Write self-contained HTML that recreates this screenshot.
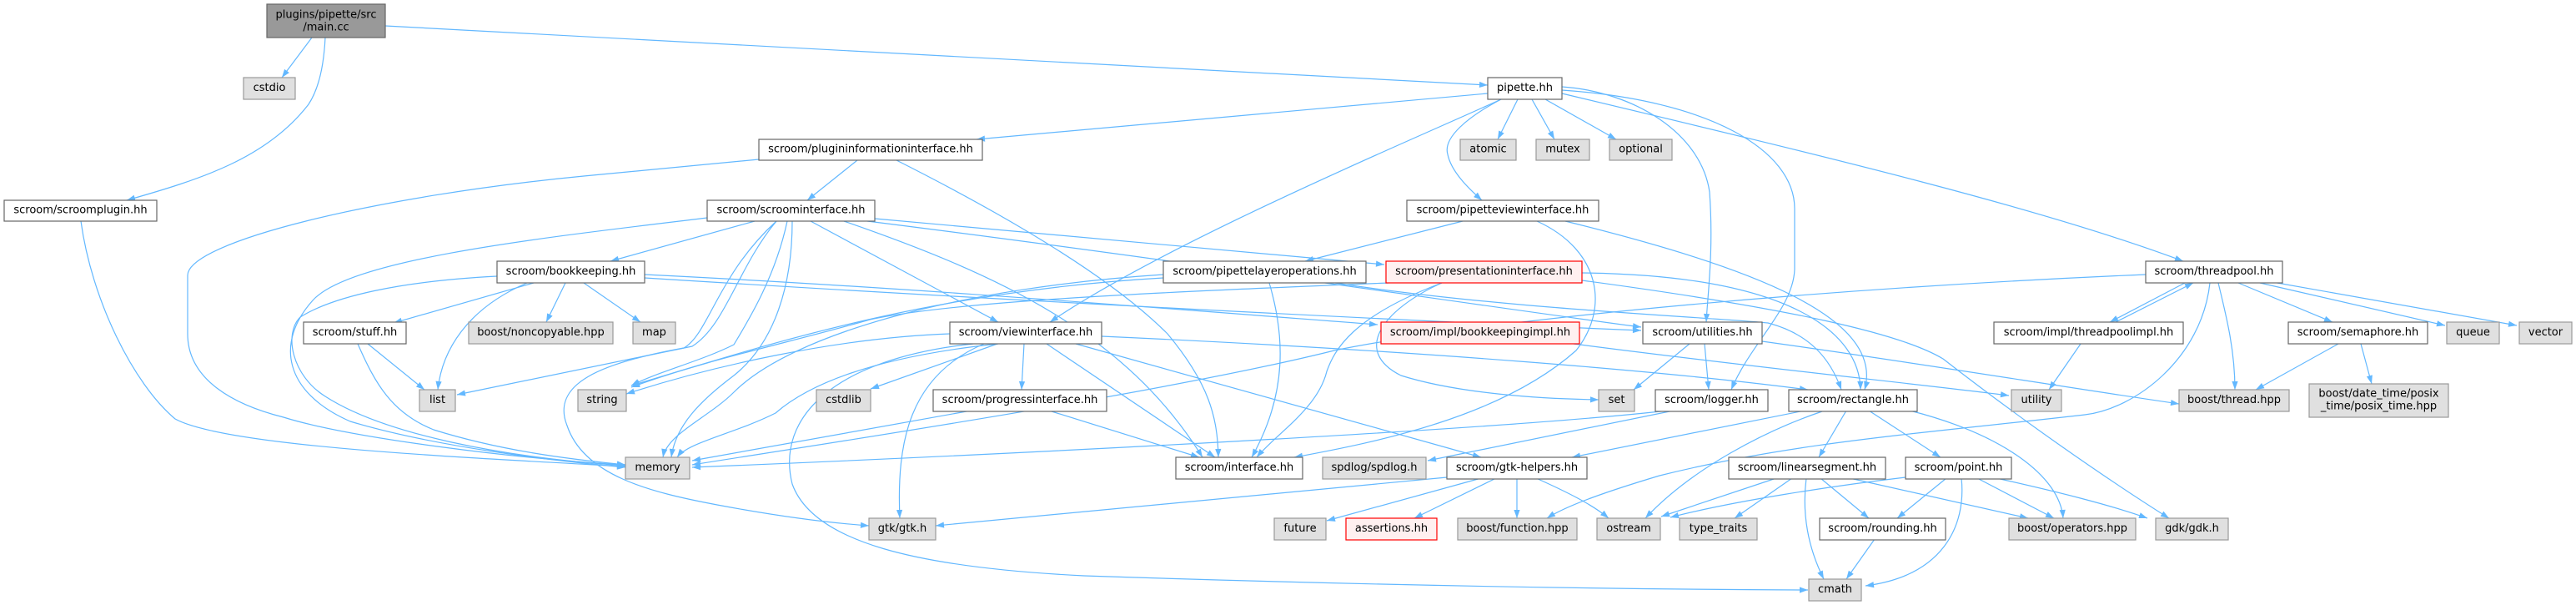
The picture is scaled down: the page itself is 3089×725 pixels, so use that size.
<!DOCTYPE html>
<html>
<head>
<meta charset="utf-8">
<style>
html,body{margin:0;padding:0;background:#fff;}
svg{display:block;}
text{font-family:"DejaVu Sans","Liberation Sans",sans-serif;font-size:13px;fill:#000;text-anchor:middle;}
.e{fill:none;stroke:#63b8ff;stroke-width:1.2;marker-end:url(#ah);}
.W{fill:#fff;stroke:#666;stroke-width:1.2;}
.G{fill:#e0e0e0;stroke:#999;stroke-width:1.2;}
.R{fill:#fff0f0;stroke:#f00;stroke-width:1.2;}
.M{fill:#999;stroke:#666;stroke-width:1.2;}
</style>
</head>
<body>
<svg width="3089" height="725" viewBox="0 0 3089 725" xmlns="http://www.w3.org/2000/svg">
<defs>
<marker id="ah" markerUnits="userSpaceOnUse" markerWidth="12" markerHeight="10" refX="10" refY="3.6" orient="auto" overflow="visible">
<path d="M0,0 L10,3.6 L0,7.2 z" fill="#63b8ff"/>
</marker>
</defs>

<!-- edges -->
<g>
<path class="e" d="M374,45 L338,93"/>
<path class="e" d="M390,45 C388,85 380,110 370,125 C320,190 240,215 152,240"/>
<path class="e" d="M462,31 L1784,102"/>
<path class="e" d="M97,265 C110,360 160,460 210,502 C270,535 550,548 750,559"/>
<path class="e" d="M1784,112 L1171,167"/>
<path class="e" d="M1800,119 C1700,165 1400,290 1259,386"/>
<path class="e" d="M1800,119 C1760,140 1730,165 1736,185 C1740,205 1760,225 1777,240"/>
<path class="e" d="M1820,119 L1796,167"/>
<path class="e" d="M1837,119 L1864,167"/>
<path class="e" d="M1853,119 L1938,167"/>
<path class="e" d="M1873,104 C1960,110 2040,160 2050,230 C2055,300 2048,350 2046,386"/>
<path class="e" d="M1873,108 C2050,120 2152,180 2152,250 L2152,323 C2150,370 2100,410 2076,467"/>
<path class="e" d="M1873,112 C2200,190 2450,250 2618,313"/>
<path class="e" d="M1028,192 L968,240"/>
<path class="e" d="M910,191 L700,211 C450,235 225,290 225,330 L225,400 C225,455 280,485 340,500 C420,525 620,550 750,557"/>
<path class="e" d="M1075,192 C1200,255 1330,330 1400,400 C1450,460 1460,500 1461,548"/>
<path class="e" d="M905,265 L732,313"/>
<path class="e" d="M848,261 C650,285 420,310 375,360 C330,410 340,470 420,505 C520,535 660,552 750,560"/>
<path class="e" d="M931,265 C885,320 870,390 830,415 L548,473"/>
<path class="e" d="M944,265 C930,330 900,380 880,413 C840,433 790,445 757,462"/>
<path class="e" d="M950,265 C950,340 930,410 880,450 C840,480 810,510 805,548"/>
<path class="e" d="M931,265 C860,330 850,400 820,417 C720,435 660,460 680,510 C700,570 780,590 860,605 C940,620 1000,627 1042,630"/>
<path class="e" d="M972,265 L1197,386"/>
<path class="e" d="M1012,265 C1200,330 1350,400 1442,548"/>
<path class="e" d="M1049,262 L1660,317"/>
<path class="e" d="M1040,265 C1400,310 1800,370 1968,392"/>
<path class="e" d="M640,339 L472,387"/>
<path class="e" d="M632,339 C560,370 530,420 525,467"/>
<path class="e" d="M678,339 L655,386"/>
<path class="e" d="M700,339 L768,386"/>
<path class="e" d="M596,331 C480,337 400,355 360,380 C340,400 350,450 390,475 C460,520 600,548 750,558"/>
<path class="e" d="M773,329 C1100,345 1400,370 1652,389"/>
<path class="e" d="M773,333 C1200,360 1700,385 1968,396"/>
<path class="e" d="M441,412 L509,467"/>
<path class="e" d="M429,412 C450,460 470,495 520,515 C600,540 680,550 750,557"/>
<path class="e" d="M1196,412 L1044,466"/>
<path class="e" d="M1228,412 L1225,467"/>
<path class="e" d="M1180,412 C1090,450 1075,530 1079,621"/>
<path class="e" d="M1167,412 C1000,430 930,500 950,580 C975,650 1100,680 1300,690 C1600,700 1900,706 2168,707"/>
<path class="e" d="M1255,412 L1457,548"/>
<path class="e" d="M1290,412 L1776,548"/>
<path class="e" d="M1321,403 C1700,420 2000,445 2168,467"/>
<path class="e" d="M1139,400 C1000,405 850,440 751,472"/>
<path class="e" d="M1197,412 C1044,428 968,462 930,495 C880,520 825,530 812,548"/>
<path class="e" d="M1159,493 L830,552"/>
<path class="e" d="M1261,493 L1438,548"/>
<path class="e" d="M1754,265 L1565,313"/>
<path class="e" d="M1843,265 C1920,300 1930,370 1890,420 C1800,500 1650,530 1552,548"/>
<path class="e" d="M1877,265 C2100,320 2260,380 2236,467"/>
<path class="e" d="M1522,339 C1540,400 1545,470 1501,548"/>
<path class="e" d="M1601,339 C1800,370 2050,380 2120,387 C2170,400 2195,430 2208,467"/>
<path class="e" d="M1395,333 C1100,350 900,420 757,462"/>
<path class="e" d="M1395,329 C1150,345 950,400 880,470 C850,500 800,520 795,548"/>
<path class="e" d="M1729,339 C1660,370 1620,420 1680,450 C1750,472 1850,478 1917,479"/>
<path class="e" d="M1729,339 C1620,380 1600,420 1591,445 C1580,490 1530,520 1507,548"/>
<path class="e" d="M1897,327 C2150,330 2230,400 2231,467"/>
<path class="e" d="M1897,336 C2150,370 2280,400 2330,430 C2420,500 2520,570 2601,621"/>
<path class="e" d="M1665,339 C1400,350 1150,360 1043,383 C950,410 850,430 757,464"/>
<path class="e" d="M1887,412 C2100,440 2300,460 2409,474"/>
<path class="e" d="M2026,412 L1959,467"/>
<path class="e" d="M2044,412 L2049,467"/>
<path class="e" d="M2113,409 C2300,435 2450,460 2613,484"/>
<path class="e" d="M2007,492 L1712,552"/>
<path class="e" d="M2000,492 C1800,515 1200,545 830,560"/>
<path class="e" d="M2164,492 L1885,548"/>
<path class="e" d="M2185,493 C2120,515 2030,560 1973,621"/>
<path class="e" d="M2214,492 L2181,548"/>
<path class="e" d="M2241,492 L2327,548"/>
<path class="e" d="M2290,492 C2400,520 2470,570 2474,621"/>
<path class="e" d="M1735,572 L1122,630"/>
<path class="e" d="M1776,573 L1591,624"/>
<path class="e" d="M1794,573 L1696,621"/>
<path class="e" d="M1819,573 L1819,621"/>
<path class="e" d="M1842,573 C1880,590 1910,605 1929,621"/>
<path class="e" d="M2130,573 L1992,619"/>
<path class="e" d="M2149,573 L2080,621"/>
<path class="e" d="M2166,573 C2160,620 2170,660 2187,694"/>
<path class="e" d="M2183,573 L2241,621"/>
<path class="e" d="M2218,573 L2432,621"/>
<path class="e" d="M2285,572 C2200,582 2080,600 2003,620"/>
<path class="e" d="M2334,573 L2275,621"/>
<path class="e" d="M2352,573 C2358,630 2330,690 2237,702"/>
<path class="e" d="M2371,573 L2463,621"/>
<path class="e" d="M2394,573 C2470,590 2530,605 2575,621"/>
<path class="e" d="M2248,646 L2214,694"/>
<path class="e" d="M2620,339 L2530,386"/>
<path class="e" d="M2537,386 L2630,339"/>
<path class="e" d="M2660,339 C2670,380 2680,420 2680,467"/>
<path class="e" d="M2684,339 L2797,386"/>
<path class="e" d="M2710,339 L2932,390"/>
<path class="e" d="M2725,338 L3018,390"/>
<path class="e" d="M2650,339 C2640,430 2560,490 2500,497 C2300,520 2150,530 1990,570 C1930,588 1880,605 1855,621"/>
<path class="e" d="M2573,329 C2200,345 1800,380 1600,420 C1400,470 1000,530 830,557"/>
<path class="e" d="M2495,412 L2457,467"/>
<path class="e" d="M2804,412 L2705,467"/>
<path class="e" d="M2831,412 L2844,460"/>
</g>

<!-- nodes -->
<g>
<rect class="M" x="320" y="5" width="142" height="40"/>
<text x="391" y="21.5">plugins/pipette/src</text>
<text x="391" y="36.5">/main.cc</text>

<rect class="G" x="292" y="93" width="62" height="26"/><text x="323" y="109">cstdio</text>
<rect class="W" x="1784" y="93" width="89" height="26"/><text x="1828.5" y="109">pipette.hh</text>

<rect class="W" x="910" y="167" width="268" height="25"/><text x="1044" y="182.5">scroom/plugininformationinterface.hh</text>
<rect class="G" x="1751" y="167" width="67" height="25"/><text x="1784.5" y="182.5">atomic</text>
<rect class="G" x="1842" y="167" width="64" height="25"/><text x="1874" y="182.5">mutex</text>
<rect class="G" x="1930" y="167" width="75" height="25"/><text x="1967.5" y="182.5">optional</text>

<rect class="W" x="5" y="240" width="183" height="25"/><text x="96.5" y="255.5">scroom/scroomplugin.hh</text>
<rect class="W" x="848" y="240" width="201" height="25"/><text x="948.5" y="255.5">scroom/scroominterface.hh</text>
<rect class="W" x="1687" y="240" width="230" height="25"/><text x="1802" y="255.5">scroom/pipetteviewinterface.hh</text>

<rect class="W" x="596" y="313" width="177" height="26"/><text x="684.5" y="329">scroom/bookkeeping.hh</text>
<rect class="W" x="1395" y="313" width="243" height="26"/><text x="1516.5" y="329">scroom/pipettelayeroperations.hh</text>
<rect class="R" x="1662" y="313" width="235" height="26"/><text x="1779.5" y="329">scroom/presentationinterface.hh</text>
<rect class="W" x="2573" y="313" width="164" height="26"/><text x="2655" y="329">scroom/threadpool.hh</text>

<rect class="W" x="364" y="386" width="123" height="26"/><text x="425.5" y="402">scroom/stuff.hh</text>
<rect class="G" x="562" y="386" width="173" height="26"/><text x="648.5" y="402">boost/noncopyable.hpp</text>
<rect class="G" x="759" y="386" width="51" height="26"/><text x="784.5" y="402">map</text>
<rect class="W" x="1139" y="386" width="182" height="26"/><text x="1230" y="402">scroom/viewinterface.hh</text>
<rect class="R" x="1656" y="386" width="238" height="26"/><text x="1775" y="402">scroom/impl/bookkeepingimpl.hh</text>
<rect class="W" x="1970" y="386" width="143" height="26"/><text x="2041.5" y="402">scroom/utilities.hh</text>
<rect class="W" x="2391" y="386" width="227" height="26"/><text x="2504.5" y="402">scroom/impl/threadpoolimpl.hh</text>
<rect class="W" x="2744" y="386" width="167" height="26"/><text x="2827.5" y="402">scroom/semaphore.hh</text>
<rect class="G" x="2934" y="386" width="63" height="26"/><text x="2965.5" y="402">queue</text>
<rect class="G" x="3021" y="386" width="63" height="26"/><text x="3052.5" y="402">vector</text>

<rect class="G" x="503" y="467" width="43" height="26"/><text x="524.5" y="483">list</text>
<rect class="G" x="693" y="467" width="58" height="26"/><text x="722" y="483">string</text>
<rect class="G" x="979" y="467" width="65" height="26"/><text x="1011.5" y="483">cstdlib</text>
<rect class="W" x="1119" y="467" width="208" height="26"/><text x="1223" y="483">scroom/progressinterface.hh</text>
<rect class="G" x="1917" y="467" width="43" height="26"/><text x="1938.5" y="483">set</text>
<rect class="W" x="1985" y="467" width="135" height="26"/><text x="2052.5" y="483">scroom/logger.hh</text>
<rect class="W" x="2145" y="467" width="154" height="26"/><text x="2222" y="483">scroom/rectangle.hh</text>
<rect class="G" x="2412" y="467" width="60" height="26"/><text x="2442" y="483">utility</text>
<rect class="G" x="2613" y="467" width="132" height="26"/><text x="2679" y="483">boost/thread.hpp</text>
<rect class="G" x="2769" y="460" width="167" height="40"/>
<text x="2852.5" y="475.5">boost/date_time/posix</text>
<text x="2852.5" y="490.5">_time/posix_time.hpp</text>

<rect class="G" x="750" y="548" width="77" height="26"/><text x="788.5" y="564">memory</text>
<rect class="W" x="1410" y="548" width="152" height="26"/><text x="1486" y="564">scroom/interface.hh</text>
<rect class="G" x="1586" y="548" width="124" height="26"/><text x="1648" y="564">spdlog/spdlog.h</text>
<rect class="W" x="1735" y="548" width="168" height="26"/><text x="1819" y="564">scroom/gtk-helpers.hh</text>
<rect class="W" x="2073" y="548" width="188" height="26"/><text x="2167" y="564">scroom/linearsegment.hh</text>
<rect class="W" x="2285" y="548" width="127" height="26"/><text x="2348.5" y="564">scroom/point.hh</text>

<rect class="G" x="1042" y="621" width="80" height="26"/><text x="1082" y="637">gtk/gtk.h</text>
<rect class="G" x="1528" y="621" width="62" height="26"/><text x="1559" y="637">future</text>
<rect class="R" x="1614" y="621" width="109" height="26"/><text x="1668.5" y="637">assertions.hh</text>
<rect class="G" x="1748" y="621" width="143" height="26"/><text x="1819.5" y="637">boost/function.hpp</text>
<rect class="G" x="1915" y="621" width="76" height="26"/><text x="1953" y="637">ostream</text>
<rect class="G" x="2014" y="621" width="93" height="26"/><text x="2060.5" y="637">type_traits</text>
<rect class="W" x="2182" y="621" width="151" height="26"/><text x="2257.5" y="637">scroom/rounding.hh</text>
<rect class="G" x="2409" y="621" width="152" height="26"/><text x="2485" y="637">boost/operators.hpp</text>
<rect class="G" x="2585" y="621" width="87" height="26"/><text x="2628.5" y="637">gdk/gdk.h</text>

<rect class="G" x="2169" y="694" width="63" height="26"/><text x="2200.5" y="710">cmath</text>
</g>
</svg>
</body>
</html>
